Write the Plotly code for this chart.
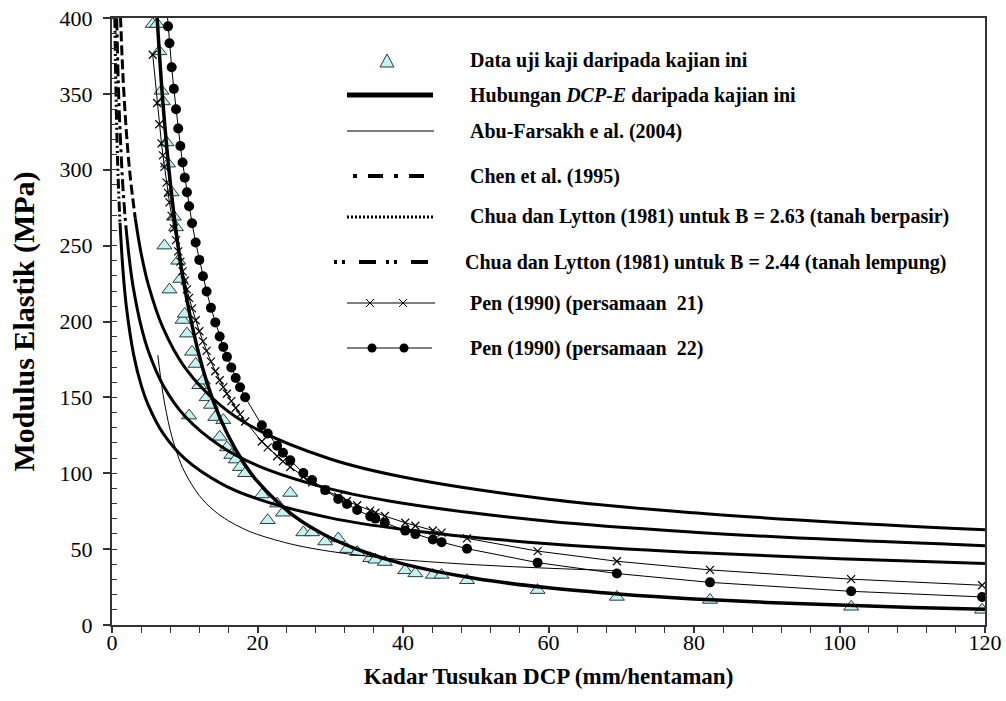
import plotly.graph_objects as go

# ---------------- data ----------------
# Test data: DCP penetration rate (mm/blow) and measured elastic modulus (MPa)
dcp = [5.6, 6.2, 6.5, 6.8, 7.0, 7.2, 7.5, 7.7, 7.9, 8.2, 8.5, 8.8, 9.1, 9.4, 9.7,
       10.0, 10.3, 10.6, 11.0, 11.5, 12.0, 12.5, 13.0, 13.6, 14.2, 14.8, 15.3, 15.8,
       16.4, 17.0, 17.6, 18.3, 20.6, 21.4, 22.7, 23.5, 24.5, 26.3, 27.5, 29.3, 31.1,
       32.3, 33.7, 35.5, 36.2, 37.5, 40.3, 41.7, 44.1, 45.3, 48.8, 58.5, 69.4, 82.2,
       101.6, 119.6]
e_test = [396, 396, 378, 352, 345, 250, 318, 304, 221, 285, 269, 262, 240, 228, 201,
          205, 192, 138, 180, 172, 158, 161, 150, 145, 137, 124, 135, 117,
          112, 109, 104, 100, 86, 69, 80, 74, 87, 61, 61, 55, 57,
          50, 48, 44, 43, 41.5, 36, 34, 33, 33, 29.5, 23, 18.5, 16.5,
          12, 10]
# Pen (1990) equation 21 and 22, evaluated at the test DCP values
pen21_e = [375.8, 344.0, 330.0, 317.4, 309.5, 301.9, 291.5, 284.8, 278.5, 269.6, 261.4,
           253.6, 246.2, 239.5, 233.0, 226.9, 221.2, 215.6, 208.7, 200.8, 193.6, 186.9,
           180.6, 173.6, 167.2, 161.3, 156.8, 152.4, 147.5, 143.0, 138.8, 134.1, 120.9,
           117.1, 111.2, 107.8, 104.1, 97.7, 94.0, 89.1, 84.6, 81.7, 78.9, 75.4, 74.0,
           71.8, 67.4, 65.4, 62.3, 60.9, 57.1, 48.7, 42.0, 36.3, 30.2, 26.2]
pen22_e = [562.7, 502.3, 476.5, 453.0, 438.8, 425.3, 406.1, 394.5, 383.4, 367.6, 353.3,
           339.9, 327.2, 315.6, 304.8, 294.8, 285.2, 276.0, 264.8, 252.1, 240.6, 229.8,
           219.8, 209.0, 199.4, 190.1, 183.2, 176.7, 169.7, 162.8, 156.7, 150.1, 131.6,
           126.2, 118.2, 113.5, 108.5, 100.1, 95.5, 88.9, 83.1, 79.7, 75.8, 71.6, 70.1,
           67.4, 62.2, 59.9, 56.3, 54.6, 50.3, 41.1, 33.9, 28.1, 22.2, 18.5]

# DCP-E relationship of this study
study_x = [6.0, 7, 8, 9, 10, 12, 14, 16, 18, 20, 25, 30, 35, 40, 50, 60, 70, 80, 90, 100, 110, 120]
study_e = [415.9, 344, 292, 252.6, 221.9, 177.3, 146.6, 124.5, 107.7, 94.6, 71.9, 57.5,
           47.6, 40.3, 30.6, 24.5, 20.3, 17.2, 14.9, 13.1, 11.6, 10.4]

# Abu-Farsakh et al. (2004)
abu_x = [6.3, 7, 8, 9, 10, 12, 14, 16, 18, 20, 25, 30, 35, 40, 50, 60, 69.4]
abu_e = [177.8, 152.5, 128.4, 112.3, 100.7, 85.3, 75.5, 68.7, 63.6, 59.7, 52.9, 48.5,
         45.4, 43.0, 39.7, 37.4, 35.8]

# Chen et al. (1995)
chen_x = [0.65, 0.8, 1, 1.5, 1.9, 2.5, 3, 4, 5, 7, 10, 15, 20, 30, 40, 60, 80, 100, 120]
chen_e = [399.8, 368.7, 338, 288.5, 263.2, 236.4, 220.2, 196.9, 180.4, 158.2, 137.7,
          117.6, 105.1, 89.7, 80.2, 68.4, 61.2, 56.1, 52.3]

# Chua and Lytton (1981), B = 2.63 (sandy soil)
chua263_x = [1.17, 1.5, 2, 2.5, 3.2, 4, 5, 7, 10, 15, 20, 30, 40, 60, 80, 100, 120]
chua263_e = [400.6, 362.7, 323.3, 295.7, 267.9, 245.0, 224.1, 195.9, 169.8, 144.4,
             128.7, 109.4, 97.5, 82.9, 73.9, 67.6, 62.8]

# Chua and Lytton (1981), B = 2.44 (clay soil)
chua244_x = [0.393, 0.5, 0.7, 0.9, 1.1, 1.5, 2, 3, 4, 5, 7, 10, 15, 20, 30, 40, 60, 80, 100, 120]
chua244_e = [400.2, 363.4, 317.6, 287.2, 265.1, 234.2, 208.7, 177.5, 158.2, 144.7,
             126.4, 109.6, 93.2, 83.1, 70.6, 63.0, 53.5, 47.7, 43.7, 40.6]

x_ticks = [0, 20, 40, 60, 80, 100, 120]
y_ticks = [0, 50, 100, 150, 200, 250, 300, 350, 400]

legend_labels = [
    "Data uji kaji daripada kajian ini",
    "Hubungan <i>DCP-E</i> daripada kajian ini",
    "Abu-Farsakh e al. (2004)",
    "Chen et al. (1995)",
    "Chua dan Lytton (1981) untuk B = 2.63 (tanah berpasir)",
    "Chua dan Lytton (1981) untuk B = 2.44 (tanah lempung)",
    "Pen (1990) (persamaan  21)",
    "Pen (1990) (persamaan  22)",
]

# ---------------- styling / layout ----------------
FONT = "Liberation Serif"
W, H = 1006, 701
L, R, T, B = 112, 985, 18, 625
AX = "#333333"
TRI_FILL = "#C4F2F2"
TRI_LINE = "#2A3A3A"
DASH_LIMIT = 270  # steep upper part of the three curves shows its dash pattern


def pxx(v):
    return (v - L) / (R - L)


def pxy(v):
    return (B - v) / (B - T)


fig = go.Figure()

fig.add_trace(go.Scatter(
    x=dcp, y=e_test, mode="markers",
    marker=dict(symbol="triangle-up", size=13, color=TRI_FILL,
                line=dict(color=TRI_LINE, width=1))))

fig.add_trace(go.Scatter(x=abu_x, y=abu_e, mode="lines",
                         line=dict(color="black", width=1, shape="spline")))


def add_split(xs, es, dash):
    k = sum(1 for e in es if e > DASH_LIMIT)
    fig.add_trace(go.Scatter(x=xs[:k + 1], y=es[:k + 1], mode="lines",
                             line=dict(color="black", width=3, dash=dash, shape="spline")))
    fig.add_trace(go.Scatter(x=xs[k:], y=es[k:], mode="lines",
                             line=dict(color="black", width=3, shape="spline")))


add_split(chua244_x, chua244_e, "10px,3px,2px,3px,2px,3px")
add_split(chen_x, chen_e, "12px,4px,3px,4px")
add_split(chua263_x, chua263_e, "10px,4px")

fig.add_trace(go.Scatter(x=study_x, y=study_e, mode="lines",
                         line=dict(color="black", width=3.5, shape="spline")))

fig.add_trace(go.Scatter(
    x=dcp, y=pen21_e, mode="lines+markers",
    line=dict(color="black", width=1),
    marker=dict(symbol="x-thin", size=8, color="black",
                line=dict(color="black", width=1.2))))

fig.add_trace(go.Scatter(
    x=dcp, y=pen22_e, mode="lines+markers",
    line=dict(color="black", width=1),
    marker=dict(symbol="circle", size=10, color="black")))

# ---------------- manual legend ----------------
shapes = []
annotations = []
leg_y = [60, 95, 131, 176, 217, 262, 303, 348]
text_x = [468, 468, 468, 468, 468, 463, 468, 468]


def hline(x0, x1, y, width, dash="solid"):
    shapes.append(dict(type="line", xref="paper", yref="paper",
                       x0=pxx(x0), x1=pxx(x1), y0=pxy(y), y1=pxy(y),
                       line=dict(color="black", width=width, dash=dash)))


# 1 triangle
shapes.append(dict(type="path", xref="paper", yref="paper",
                   path=f"M {pxx(380)},{pxy(67)} L {pxx(394)},{pxy(67)} L {pxx(387)},{pxy(54)} Z",
                   fillcolor=TRI_FILL, line=dict(color=TRI_LINE, width=1)))
# 2 thick line
hline(347, 433, leg_y[1], 5)
# 3 thin line
hline(347, 434, leg_y[2], 1)
# 4 Chen dot-dash
hline(353, 426, leg_y[3], 4, "4px,11px,15px,11px")
# 5 dotted
hline(347, 433, leg_y[4], 3, "2px,2px")
# 6 dash-dot-dot
hline(334, 428, leg_y[5], 4, "3px,5px,3px,14px,17px,10px")
# 7 Pen 21 line with x markers
hline(347, 435, leg_y[6], 1)
for cx in (370, 403):
    for dy in (-4, 4):
        shapes.append(dict(type="line", xref="paper", yref="paper",
                           x0=pxx(cx - 4), x1=pxx(cx + 4),
                           y0=pxy(leg_y[6] - dy), y1=pxy(leg_y[6] + dy),
                           line=dict(color="black", width=1)))
# 8 Pen 22 line with dots
hline(347, 432, leg_y[7], 1)
for cx in (372, 404):
    shapes.append(dict(type="circle", xref="paper", yref="paper",
                       x0=pxx(cx - 4.5), x1=pxx(cx + 4.5),
                       y0=pxy(leg_y[7] + 4.5), y1=pxy(leg_y[7] - 4.5),
                       fillcolor="black", line=dict(width=0)))

for lbl, yy, xx in zip(legend_labels, leg_y, text_x):
    annotations.append(dict(text=f"<b>{lbl}</b>", xref="paper", yref="paper",
                            x=pxx(xx), y=pxy(yy), xanchor="left", yanchor="middle",
                            showarrow=False, font=dict(family=FONT, size=20, color="black")))

fig.update_layout(
    width=W, height=H, autosize=False,
    margin=dict(l=L, r=W - R, t=T, b=H - B, pad=0, autoexpand=False),
    paper_bgcolor="white", plot_bgcolor="white",
    showlegend=False,
    shapes=shapes, annotations=annotations,
    font=dict(family=FONT, color="black"),
    xaxis=dict(
        automargin=False,
        range=[0, 120], tickvals=x_ticks, ticktext=[str(v) for v in x_ticks],
        ticks="outside", ticklen=6, tickwidth=1.5, tickcolor=AX,
        minor=dict(dtick=4, tick0=0, ticks="outside", ticklen=6, tickwidth=1, tickcolor=AX),
        showgrid=False, zeroline=False,
        showline=True, linecolor=AX, linewidth=1.5, mirror=True,
        tickfont=dict(family=FONT, size=22, color="black"),
        ticklabelstandoff=-9,
        title=dict(text="<b>Kadar Tusukan DCP (mm/hentaman)</b>",
                   font=dict(family=FONT, size=23, color="black"), standoff=14),
    ),
    yaxis=dict(
        automargin=False,
        range=[0, 400], tickvals=y_ticks, ticktext=[str(v) for v in y_ticks],
        ticks="outside", ticklen=7, tickwidth=1.5, tickcolor=AX,
        minor=dict(dtick=10, tick0=0, ticks="inside", ticklen=5, tickwidth=1, tickcolor=AX),
        showgrid=False, zeroline=False,
        showline=True, linecolor=AX, linewidth=2, mirror=True,
        tickfont=dict(family=FONT, size=22, color="black"),
        ticklabelstandoff=6,
        title=dict(text="<b>Modulus Elastik (MPa)</b>",
                   font=dict(family=FONT, size=30, color="black"), standoff=16),
    ),
)

fig.write_html("out.html")
